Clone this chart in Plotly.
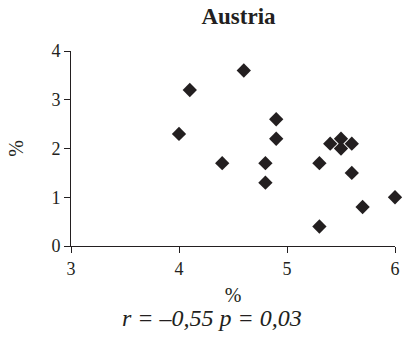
import plotly.graph_objects as go

x_vals = [4.0, 4.1, 4.6, 4.4, 4.8, 4.8, 4.9, 4.9, 5.3, 5.3, 5.4, 5.5, 5.5, 5.6, 5.6, 5.7, 6.0]
y_vals = [2.3, 3.2, 3.6, 1.7, 1.7, 1.3, 2.6, 2.2, 1.7, 0.4, 2.1, 2.2, 2.0, 2.1, 1.5, 0.8, 1.0]
x_ticks = [3, 4, 5, 6]
y_ticks = [0, 1, 2, 3, 4]

font = "Liberation Serif"
col = "#231f20"
fig = go.Figure(go.Scatter(
    x=x_vals, y=y_vals, mode="markers",
    marker=dict(symbol="diamond", size=11, color=col),
    cliponaxis=False,
))
fig.update_layout(
    width=407, height=344,
    margin=dict(l=71, r=7, t=51, b=98),
    paper_bgcolor="white", plot_bgcolor="white",
    showlegend=False,
    font=dict(family=font, size=18, color=col),
    title=dict(text="<b>Austria</b>", x=0.586, xanchor="center", y=1 - 16 / 344, yanchor="middle",
               font=dict(family=font, size=23, color=col)),
    annotations=[dict(text="<i>r = –0,55 p = 0,03</i>", x=(214 - 71) / 329, xref="paper",
                      y=-(318 - 246) / 195, yref="paper", yanchor="middle",
                      showarrow=False, font=dict(family=font, size=24, color=col))],
)
fig.update_xaxes(range=[3, 6], tickvals=x_ticks, showgrid=False, zeroline=False,
                 showline=True, linecolor=col, linewidth=1,
                 ticks="outside", ticklen=6, tickcolor=col,
                 title=dict(text="%", standoff=10, font=dict(size=20)))
fig.update_yaxes(range=[0, 4], tickvals=y_ticks, showgrid=False, zeroline=False,
                 showline=True, linecolor=col, linewidth=1,
                 ticks="outside", ticklen=6, tickcolor=col,
                 title=dict(text="%", standoff=22, font=dict(size=20)))
fig.write_html("out.html")
